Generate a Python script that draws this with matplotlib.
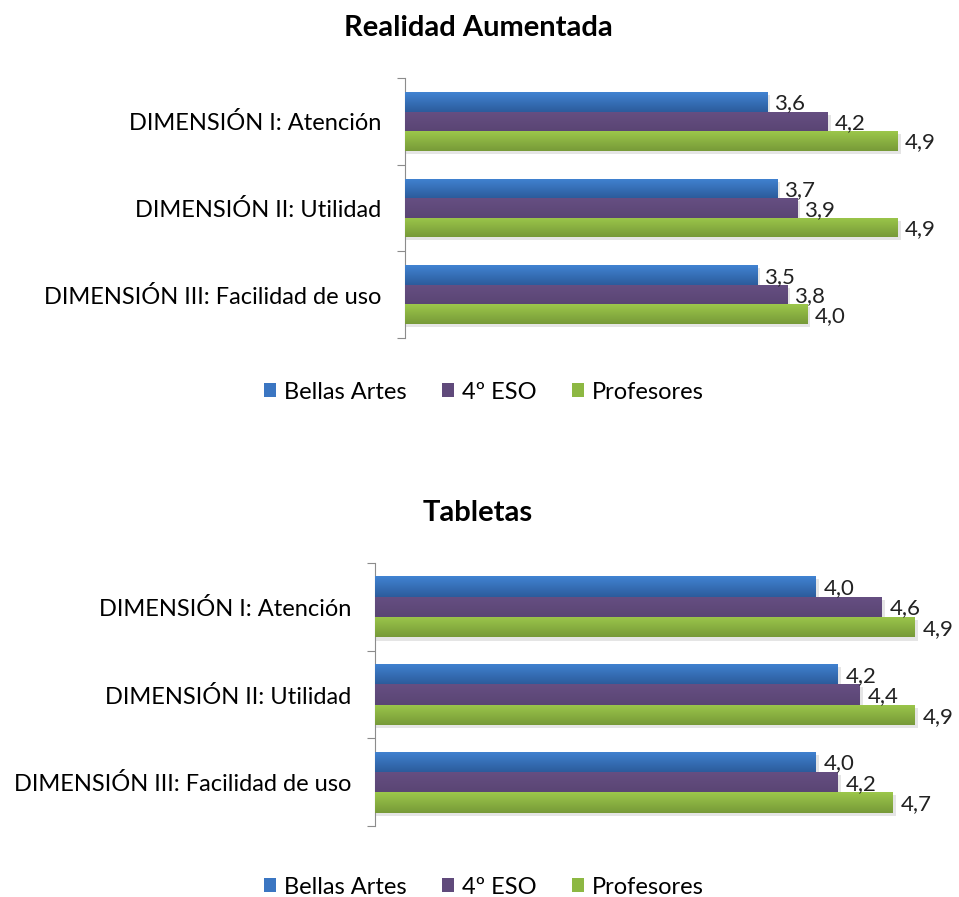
import numpy as np
import matplotlib.pyplot as plt
from matplotlib.patches import Patch
from matplotlib.colors import LinearSegmentedColormap

plt.rcParams['font.family'] = ['Lato', 'DejaVu Sans']

categorias = ['DIMENSIÓN I: Atención', 'DIMENSIÓN II: Utilidad', 'DIMENSIÓN III: Facilidad de uso']
series = ['Bellas Artes', '4º ESO', 'Profesores']
colores = ['#3B76C2', '#604A7B', '#8DB843']
# degradado (arriba, abajo) de cada serie
degradados = [('#4183D2', '#2C5C9C'), ('#664F82', '#5A4574'), ('#9CC74B', '#779A38')]

# Realidad Aumentada
ra_bellas = [3.6, 3.7, 3.5]
ra_eso = [4.2, 3.9, 3.8]
ra_prof = [4.9, 4.9, 4.0]

# Tabletas
tab_bellas = [4.0, 4.2, 4.0]
tab_eso = [4.6, 4.4, 4.2]
tab_prof = [4.9, 4.9, 4.7]

fig = plt.figure(figsize=(9.59, 8.97), dpi=100)
grad = np.linspace(0, 1, 64).reshape(-1, 1)


def dibujar(ax, titulo, datos, h, title_y):
    y = np.arange(len(categorias))
    ax.set_xlim(0, 5)
    ax.set_ylim(len(categorias) - 0.5, -0.5)
    for i, (vals, (c1, c2)) in enumerate(zip(datos, degradados)):
        pos = y + (i - 1) * h
        cmap = LinearSegmentedColormap.from_list('g', [c1, c2])
        # sombra
        ax.barh(pos + 0.035, np.array(vals) + 0.03, height=h, color='#000000', alpha=0.1,
                edgecolor='none', zorder=1)
        bars = ax.barh(pos, vals, height=h, color=colores[i], edgecolor='none', zorder=3)
        for b, p, v in zip(bars, pos, vals):
            im = ax.imshow(grad, extent=[0, v, p + h / 2, p - h / 2], aspect='auto',
                           cmap=cmap, zorder=4, interpolation='bilinear')
            im.set_clip_path(b)
            ax.text(v + 0.07, p + 0.02, f'{v:.1f}'.replace('.', ','), va='center', ha='left',
                    fontsize=16, color='#222222', zorder=5)
    ax.set_xlim(0, 5)
    ax.set_ylim(len(categorias) - 0.5, -0.5)
    ax.set_aspect('auto')
    ax.set_xticks([])
    ax.set_yticks(np.arange(len(categorias) + 1) - 0.5)
    ax.set_yticklabels([])
    ax.set_yticks(y, minor=True)
    ax.set_yticklabels(categorias, minor=True, fontsize=17)
    ax.tick_params(axis='y', which='major', length=6, color='#8C8C8C', direction='out')
    ax.tick_params(axis='y', which='minor', length=0, pad=17)
    for s in ['top', 'right', 'bottom']:
        ax.spines[s].set_visible(False)
    ax.spines['left'].set_color('#8C8C8C')
    fig.text(478 / 959, 1 - title_y / 897, titulo, ha='center', va='center',
             fontsize=21, fontweight='bold')


ax1 = fig.add_axes([405 / 959, 1 - 338 / 897, 503 / 959, 260 / 897])
dibujar(ax1, 'Realidad Aumentada', [ra_bellas, ra_eso, ra_prof], 0.225, 28)

ax2 = fig.add_axes([375 / 959, 1 - 826 / 897, 551 / 959, 263 / 897])
dibujar(ax2, 'Tabletas', [tab_bellas, tab_eso, tab_prof], 0.233, 513)

handles = [Patch(facecolor=c, edgecolor='none') for c in colores]
for ly in [392, 887]:
    fig.legend(handles, series, loc='center', bbox_to_anchor=(484 / 959, 1 - ly / 897),
               ncol=3, frameon=False, fontsize=17, handlelength=0.5, handleheight=0.5,
               handletextpad=0.35, columnspacing=1.5, borderpad=0.1)

fig.savefig('out.png', dpi=100)
